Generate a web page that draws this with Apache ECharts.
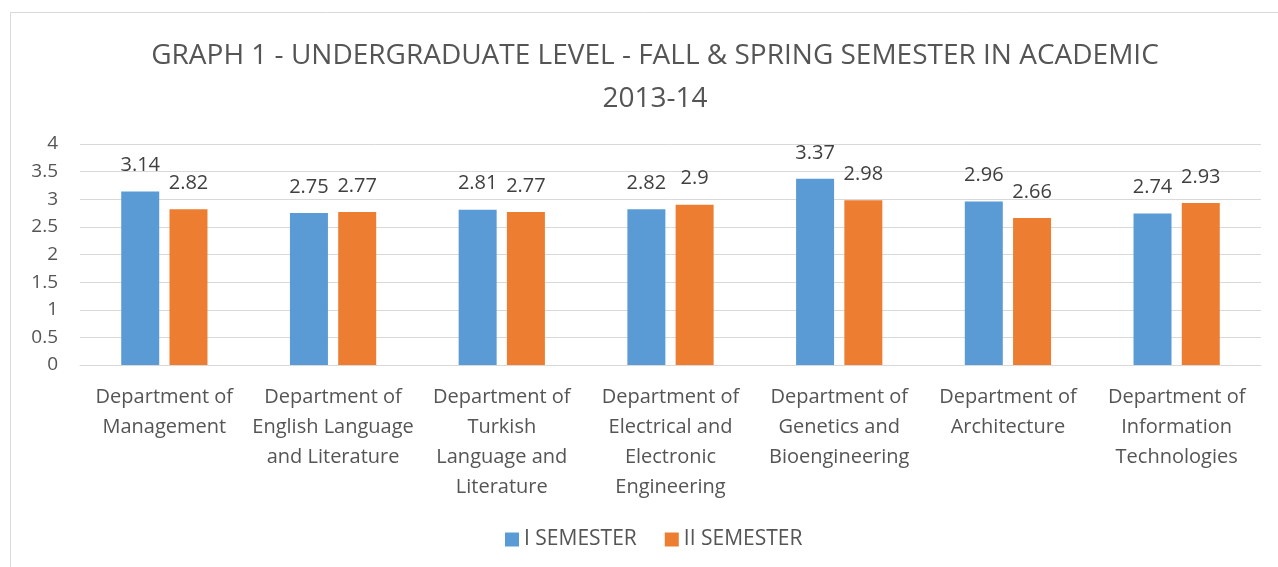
<!DOCTYPE html>
<html>
<head>
<meta charset="utf-8">
<script src="https://cdn.jsdelivr.net/npm/echarts@6/dist/echarts.min.js"></script>
<style>
html, body { margin: 0; padding: 0; background: #fff; }
#chart { width: 1278px; height: 567px; }
</style>
</head>
<body>
<div id="chart"></div>
<script>
const departments = [
  'Department of\nManagement',
  'Department of\nEnglish Language\nand Literature',
  'Department of\nTurkish\nLanguage and\nLiterature',
  'Department of\nElectrical and\nElectronic\nEngineering',
  'Department of\nGenetics and\nBioengineering',
  'Department of\nArchitecture',
  'Department of\nInformation\nTechnologies'
]
const semester1 = [3.14, 2.75, 2.81, 2.82, 3.37, 2.96, 2.74]
const semester2 = [2.82, 2.77, 2.77, 2.9, 2.98, 2.66, 2.93]
const yTicks = { min: 0, max: 4, interval: 0.5 }

const font = '"Open Sans", "Noto Sans", sans-serif'
const textColor = '#555555'

let chart = echarts.init(document.getElementById('chart'))
chart.setOption({
  backgroundColor: '#fff',
  animation: false,
  textStyle: { fontFamily: font },
  graphic: [{
    type: 'rect',
    shape: { x: 10.5, y: 12.5, width: 1300, height: 600 },
    style: { fill: 'none', stroke: '#d9d9d9', lineWidth: 1 },
    silent: true
  }],
  title: {
    text: 'GRAPH 1 - UNDERGRADUATE LEVEL - FALL & SPRING SEMESTER IN ACADEMIC\n2013-14',
    left: 650,
    textAlign: 'center',
    top: 30,
    textStyle: {
      fontFamily: font,
      fontSize: 28,
      fontWeight: 'normal',
      color: textColor,
      lineHeight: 43
    }
  },
  legend: {
    bottom: 12,
    left: 500,
    itemWidth: 14,
    itemHeight: 14,
    itemGap: 28,
    icon: 'rect',
    textStyle: { fontFamily: font, fontSize: 21, color: textColor }
  },
  grid: { left: 80, right: 17, top: 144, bottom: 202, containLabel: false },
  xAxis: {
    type: 'category',
    data: departments,
    axisLine: { lineStyle: { color: '#d9d9d9', width: 1 } },
    axisTick: { show: false },
    axisLabel: {
      interval: 0,
      margin: 17,
      fontFamily: font,
      fontSize: 20,
      color: textColor,
      lineHeight: 30,
      align: 'center'
    }
  },
  yAxis: {
    type: 'value',
    min: yTicks.min,
    max: yTicks.max,
    interval: yTicks.interval,
    axisLine: { show: false },
    axisTick: { show: false },
    splitLine: { lineStyle: { color: '#d9d9d9', width: 1 } },
    axisLabel: { fontFamily: font, fontSize: 19, color: textColor, margin: 22 }
  },
  series: [
    {
      name: 'I SEMESTER',
      type: 'bar',
      data: semester1,
      barWidth: 38,
      barGap: '27%',
      itemStyle: { color: '#5b9bd5' },
      label: { show: true, position: 'top', distance: 16, fontFamily: font, fontSize: 20, color: '#404040' }
    },
    {
      name: 'II SEMESTER',
      type: 'bar',
      data: semester2,
      barWidth: 38,
      barGap: '27%',
      itemStyle: { color: '#ed7d31' },
      label: { show: true, position: 'top', distance: 16, fontFamily: font, fontSize: 20, color: '#404040' }
    }
  ]
})
window.addEventListener('resize', function () {
  chart.resize()
})
</script>
</body>
</html>
